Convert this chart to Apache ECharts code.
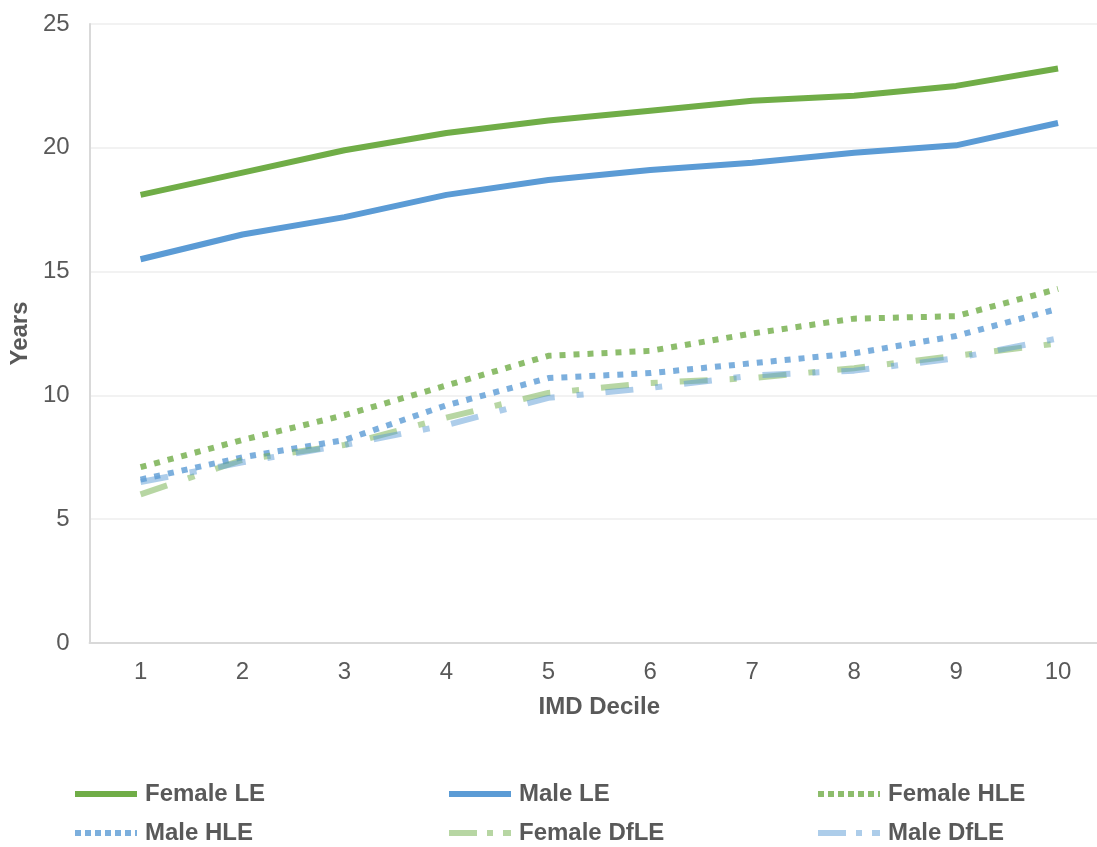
<!DOCTYPE html>
<html>
<head>
<meta charset="utf-8">
<script src="https://cdn.jsdelivr.net/npm/echarts@6/dist/echarts.min.js"></script>
<style>html,body{margin:0;padding:0;background:#fff;overflow:hidden;width:1097px;height:847px}#c{width:1109px;height:847px}</style>
</head>
<body>
<div id="c"></div>
<script>
const categories = ['1','2','3','4','5','6','7','8','9','10'];
const yTicks = [0, 5, 10, 15, 20, 25];
const femaleLE = [18.1, 19.0, 19.9, 20.6, 21.1, 21.5, 21.9, 22.1, 22.5, 23.2];
const maleLE = [15.5, 16.5, 17.2, 18.1, 18.7, 19.1, 19.4, 19.8, 20.1, 21.0];
const femaleHLE = [7.1, 8.2, 9.2, 10.4, 11.6, 11.8, 12.5, 13.1, 13.2, 14.3];
const maleHLE = [6.6, 7.5, 8.2, 9.6, 10.7, 10.9, 11.3, 11.7, 12.4, 13.5];
const femaleDfLE = [6.0, 7.4, 8.0, 9.1, 10.1, 10.5, 10.7, 11.1, 11.6, 12.1];
const maleDfLE = [6.5, 7.3, 8.0, 8.8, 9.9, 10.3, 10.8, 11.0, 11.5, 12.3];
const seriesNames = ['Female LE', 'Male LE', 'Female HLE', 'Male HLE', 'Female DfLE', 'Male DfLE'];

const FONT = '"Liberation Sans", Arial, sans-serif';
const TXT = '#595959';
const styles = [
  {color: '#70ad47', type: 'solid'},
  {color: '#5b9bd5', type: 'solid'},
  {color: 'rgba(112,173,71,0.8)', type: [6, 8]},
  {color: 'rgba(91,155,213,0.8)', type: [6, 8]},
  {color: 'rgba(112,173,71,0.5)', type: [28, 22, 7, 22]},
  {color: 'rgba(91,155,213,0.5)', type: [28, 22, 7, 22]}
];
const legendDash = ['solid', 'solid', [6, 4], [6, 4], [28, 10, 6, 10], [28, 10, 6, 10]];
const dataArr = [femaleLE, maleLE, femaleHLE, maleHLE, femaleDfLE, maleDfLE];

const legendPos = [
  {left: 72, top: 782}, {left: 446, top: 782}, {left: 815, top: 782},
  {left: 72, top: 821}, {left: 446, top: 821}, {left: 815, top: 821}
];

const chart = echarts.init(document.getElementById('c'));
chart.setOption({
  backgroundColor: '#fff',
  animation: false,
  textStyle: {fontFamily: FONT},
  grid: {left: 88, right: 0, top: 24, bottom: 204, containLabel: false},
  legend: legendPos.map((p, i) => ({
    data: [seriesNames[i]],
    left: p.left, top: p.top,
    padding: 0,
    itemWidth: 62, itemHeight: 14, itemGap: 0,
    itemStyle: {opacity: 0},
    lineStyle: {width: 6, type: legendDash[i], color: styles[i].color, cap: 'butt'},
    textStyle: {fontFamily: FONT, fontSize: 24, fontWeight: 'bold', color: TXT, padding: [0, 0, 0, 3]}
  })),
  xAxis: {
    type: 'category',
    data: categories,
    boundaryGap: true,
    name: 'IMD Decile',
    nameLocation: 'middle',
    nameGap: 52,
    nameTextStyle: {fontFamily: FONT, fontSize: 24, fontWeight: 'bold', color: TXT},
    axisLine: {lineStyle: {color: '#d9d9d9', width: 2}},
    axisTick: {show: false},
    axisLabel: {fontFamily: FONT, fontSize: 24, color: TXT, margin: 17},
    splitLine: {show: false}
  },
  yAxis: {
    type: 'value',
    min: yTicks[0], max: yTicks[yTicks.length - 1], interval: 5,
    name: 'Years',
    nameLocation: 'middle',
    nameGap: 56,
    nameTextStyle: {fontFamily: FONT, fontSize: 24, fontWeight: 'bold', color: TXT},
    axisLine: {show: true, lineStyle: {color: '#d9d9d9', width: 2}},
    axisTick: {show: false},
    axisLabel: {fontFamily: FONT, fontSize: 24, color: TXT, margin: 20},
    splitLine: {lineStyle: {color: '#eeeeee', width: 1.5}}
  },
  series: seriesNames.map((n, i) => ({
    name: n,
    type: 'line',
    data: dataArr[i],
    symbol: 'none',
    smooth: false,
    itemStyle: {color: styles[i].color},
    lineStyle: {color: styles[i].color, width: 6, type: styles[i].type, cap: 'butt', join: 'round'}
  }))
});
</script>
</body>
</html>
